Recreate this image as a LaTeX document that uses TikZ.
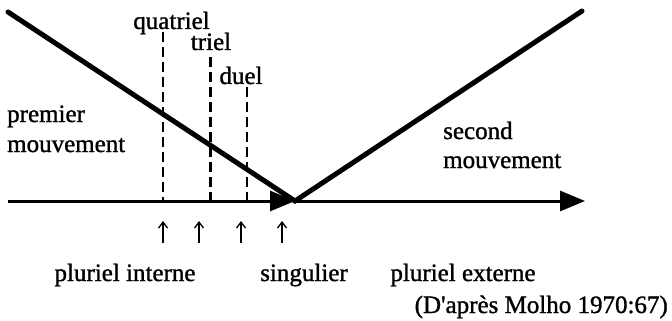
\documentclass[tikz,border=0pt]{standalone}
\usepackage{fontspec}
\setmainfont[FakeBold=1.2]{Liberation Serif}
\usetikzlibrary{arrows.meta}
\begin{document}
\begin{tikzpicture}[x=1pt,y=-1pt,
  lbl/.style={inner sep=0pt, anchor=base, font=\fontsize{25}{30}\selectfont},
  lblw/.style={lbl, anchor=base west},
  thickline/.style={line width=5pt, line cap=round},
  axisline/.style={line width=3pt, -{Triangle[length=25pt,width=20pt]}},
  guide/.style={line width=2.8pt, dash pattern=on 10pt off 5pt},
  uparrow/.style={line width=1.3pt, -{Straight Barb[length=6pt,width=9pt]}}]
\useasboundingbox (0,0) rectangle (672,321);
% main points
\coordinate (Lstart) at (8,12);
\coordinate (V) at (295,201);
\coordinate (Rend) at (582,11);
\coordinate (Astart) at (8,201);
\coordinate (Aend) at (585,201);
% guide lines
\coordinate (Qt) at (163,32);  \coordinate (Qb) at (163,201);
\coordinate (Tt) at (210.5,57); \coordinate (Tb) at (210.5,201);
\coordinate (Dt) at (247,87);  \coordinate (Db) at (247,201);
\draw[guide] (Qt) -- (Qb);
\draw[guide] (Tt) -- (Tb);
\draw[guide] (Dt) -- (Db);
% axis
\draw[axisline] (Astart) -- (V);
\draw[axisline] (V) -- (Aend);
% movements
\draw[thickline] (Lstart) -- (V) -- (Rend);
% small arrows
\foreach \n/\x in {a/163,b/199,c/241,d/282}{
  \coordinate (s\n) at (\x,243);
  \coordinate (e\n) at (\x,221);
  \draw[uparrow] (s\n) -- (e\n);
}
% labels
\node[lbl] (quatriel) at (171.5,29) {quatriel};
\node[lbl] (triel) at (211,50) {triel};
\node[lbl] (duel) at (241,84) {duel};
\node[lblw] (premier) at (7,122) {premier};
\node[lblw] (mouv1) at (7,152) {mouvement};
\node[lblw] (second) at (443,139) {second};
\node[lblw] (mouv2) at (443,168) {mouvement};
\node[lbl] (pint) at (125,281) {pluriel interne};
\node[lbl] (sing) at (304,281) {singulier};
\node[lbl] (pext) at (463,281) {pluriel externe};
\node[lbl, anchor=base east] (src) at (668,313) {(D\textquotesingle après Molho 1970:67)};
\end{tikzpicture}
\end{document}
